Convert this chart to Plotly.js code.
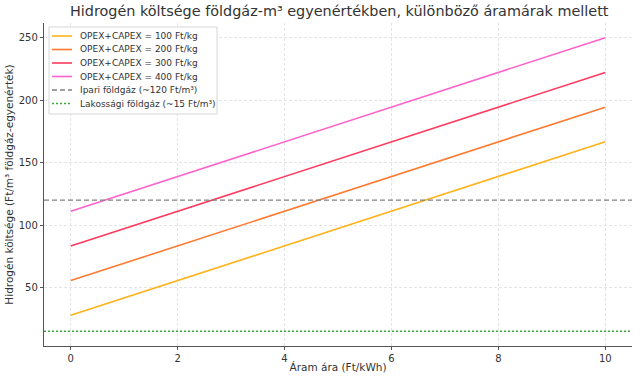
<!DOCTYPE html>
<html>
<head>
<meta charset="utf-8">
<script src="https://cdn.plot.ly/plotly-3.0.1.min.js"></script>
<style>html,body{margin:0;padding:0;background:#fff;}#chart{width:640px;height:381px;}</style>
</head>
<body>
<div id="chart"></div>
<script>
const electricityPrice = [0, 2, 4, 6, 8, 10];
const cost100 = [27.8, 55.6, 83.3, 111.1, 138.9, 166.7];
const cost200 = [55.6, 83.3, 111.1, 138.9, 166.7, 194.4];
const cost300 = [83.3, 111.1, 138.9, 166.7, 194.4, 222.2];
const cost400 = [111.1, 138.9, 166.7, 194.4, 222.2, 250.0];
const industrialGas = 120;
const residentialGas = 15;
const seriesNames = ["OPEX+CAPEX = 100 Ft/kg", "OPEX+CAPEX = 200 Ft/kg", "OPEX+CAPEX = 300 Ft/kg", "OPEX+CAPEX = 400 Ft/kg"];
const refNames = ["Ipari földgáz (~120 Ft/m³)", "Lakossági földgáz (~15 Ft/m³)"];
const colors = ["#FFB21A", "#FF7A30", "#FF3A5E", "#FF62CC"];
const refColors = ["#808080", "#3aaa3a"];
const refDash = ["5px,3px", "2px,2px"];

const xr = [-0.5, 10.5];
const series = [cost100, cost200, cost300, cost400];
const traces = series.map((y, i) => ({
  x: electricityPrice, y: y, type: "scatter", mode: "lines",
  name: seriesNames[i], showlegend: false, line: {color: colors[i], width: 1.6}
}));
traces.push({x: xr, y: [industrialGas, industrialGas], type: "scatter", mode: "lines",
  name: refNames[0], showlegend: false, line: {color: refColors[0], width: 1.4, dash: refDash[0]}});
traces.push({x: xr, y: [residentialGas, residentialGas], type: "scatter", mode: "lines",
  name: refNames[1], showlegend: false, line: {color: refColors[1], width: 1.4, dash: refDash[1]}});

// Custom legend (matplotlib-like compact spacing)
const W = 640, H = 381, M = {l: 44, r: 8, t: 23, b: 35};
const pw = W - M.l - M.r, ph = H - M.t - M.b;
const px2x = p => (p - M.l) / pw;
const py2y = p => (H - M.b - p) / ph;
const allNames = seriesNames.concat(refNames);
const allColors = colors.concat(refColors);
const allDash = ["solid", "solid", "solid", "solid"].concat(refDash);
const shapes = [{type: "rect", xref: "paper", yref: "paper",
  x0: px2x(49), x1: px2x(217), y0: py2y(114), y1: py2y(27),
  line: {color: "#d6d6d6", width: 1}, fillcolor: "rgba(255,255,255,0.85)", layer: "above"}];
const annotations = [];
allNames.forEach((n, i) => {
  const py = 36 + i * 13.5;
  shapes.push({type: "line", xref: "paper", yref: "paper", x0: px2x(52), x1: px2x(72),
    y0: py2y(py), y1: py2y(py), line: {color: allColors[i], width: 1.6, dash: allDash[i]}, layer: "above"});
  annotations.push({xref: "paper", yref: "paper", x: px2x(78), y: py2y(py), xanchor: "left",
    yanchor: "middle", text: n, showarrow: false, font: {size: 9, color: "#333"}});
});

const layout = {
  width: W, height: H,
  margin: M,
  paper_bgcolor: "#fff", plot_bgcolor: "#fff",
  font: {family: "DejaVu Sans", color: "#333", size: 10},
  title: {text: "Hidrogén költsége földgáz-m³ egyenértékben, különböző áramárak mellett",
    font: {size: 14.4, color: "#333"}, x: 0.53, xanchor: "center", y: 0.985, yanchor: "top"},
  xaxis: {range: xr, tickvals: [0, 2, 4, 6, 8, 10], showgrid: true, gridcolor: "#e4e4e4",
    griddash: "3px,2px", zeroline: false, showline: true, linecolor: "#555", linewidth: 1.2,
    ticks: "outside", ticklen: 3, tickcolor: "#555", tickfont: {size: 10},
    title: {text: "Áram ára (Ft/kWh)", font: {size: 10.5}, standoff: 0}},
  yaxis: {range: [3.25, 261.75], tickvals: [50, 100, 150, 200, 250], showgrid: true,
    gridcolor: "#e4e4e4", griddash: "3px,2px", zeroline: false, showline: true, linecolor: "#555",
    linewidth: 1.2, ticks: "outside", ticklen: 3, tickcolor: "#555", tickfont: {size: 10},
    title: {text: "Hidrogén költsége (Ft/m³ földgáz-egyenérték)", font: {size: 10.5}, standoff: 3}},
  shapes: shapes,
  annotations: annotations,
  showlegend: false
};
Plotly.newPlot("chart", traces, layout, {displayModeBar: false, staticPlot: true});
</script>
</body>
</html>
